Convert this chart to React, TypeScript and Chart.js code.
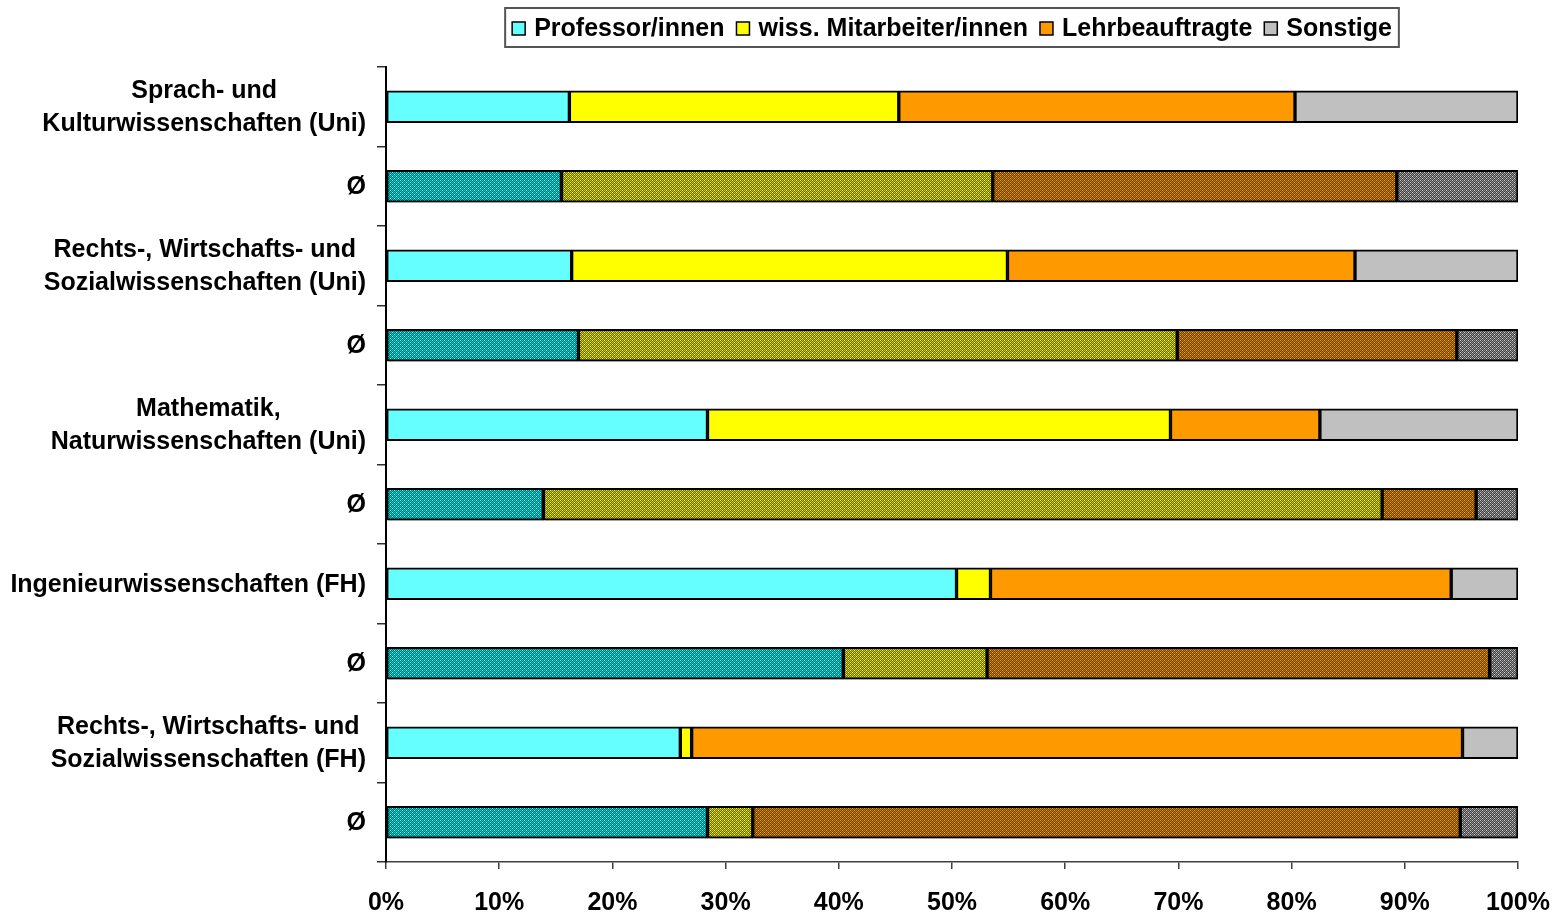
import React, { useEffect, useRef } from "react";
import { Chart, registerables } from "chart.js";

Chart.register(...registerables);

const categories: (string | string[])[] = [
  ["Sprach- und", "Kulturwissenschaften (Uni)"],
  "Ø",
  ["Rechts-, Wirtschafts- und", "Sozialwissenschaften (Uni)"],
  "Ø",
  ["Mathematik,", "Naturwissenschaften (Uni)"],
  "Ø",
  "Ingenieurwissenschaften (FH)",
  "Ø",
  ["Rechts-, Wirtschafts- und", "Sozialwissenschaften (FH)"],
  "Ø",
];

const seriesNames = ["Professor/innen", "wiss. Mitarbeiter/innen", "Lehrbeauftragte", "Sonstige"];

const professoren = [16.2, 15.5, 16.4, 17.0, 28.4, 13.9, 50.4, 40.4, 26.0, 28.4];
const mitarbeiter = [29.1, 38.1, 38.5, 52.9, 40.9, 74.1, 3.0, 12.7, 1.0, 4.0];
const lehrbeauftragte = [35.0, 35.7, 30.7, 24.7, 13.2, 8.3, 40.7, 44.4, 68.1, 62.5];
const sonstige = [19.7, 10.7, 14.4, 5.4, 17.5, 3.7, 5.9, 2.5, 4.9, 5.1];

const xTickValues = [0, 10, 20, 30, 40, 50, 60, 70, 80, 90, 100];

const FONT = '"Liberation Sans", Arial, sans-serif';
const solidColors = ["#66FFFF", "#FFFF00", "#FF9900", "#C0C0C0"];
const patternSpecs = [
  ["#006666", "#00CCCC", "#66FFFF"],
  ["#666600", "#CCCC00", "#FFFF66"],
  ["#663D00", "#CC7A00", "#FFAA33"],
  ["#404040", "#909090", "#D8D8D8"],
];

function makePattern(ctx: CanvasRenderingContext2D, base: string, mid: string, bright: string) {
  const c = document.createElement("canvas");
  c.width = 4;
  c.height = 4;
  const g = c.getContext("2d")!;
  g.fillStyle = base;
  g.fillRect(0, 0, 4, 4);
  g.fillStyle = mid;
  for (let y = 0; y < 4; y++)
    for (let x = 0; x < 4; x++) if ((x + y) % 2 === 0) g.fillRect(x, y, 1, 1);
  g.fillStyle = bright;
  g.fillRect(0, 0, 1, 1);
  g.fillRect(2, 2, 1, 1);
  return ctx.createPattern(c, "repeat")!;
}

const shadowPlugin = {
  id: "barShadow",
  beforeDatasetsDraw(chart: any) {
    const ctx = chart.ctx;
    ctx.save();
    ctx.shadowColor = "rgba(0,0,0,0.28)";
    ctx.shadowOffsetX = 2;
    ctx.shadowOffsetY = 3;
    ctx.shadowBlur = 0;
  },
  afterDatasetsDraw(chart: any) {
    chart.ctx.restore();
  },
};

const yLabelPlugin = {
  id: "yLabels",
  afterDraw(chart: any) {
    const ctx = chart.ctx;
    const y = chart.scales.y;
    ctx.save();
    ctx.font = `bold 25px ${FONT}`;
    ctx.fillStyle = "#000";
    ctx.textBaseline = "middle";
    ctx.textAlign = "center";
    categories.forEach((lab, i) => {
      const lines = Array.isArray(lab) ? lab : [lab];
      const maxW = Math.max(...lines.map((l) => ctx.measureText(l).width));
      const cx = y.right - 20 - maxW / 2;
      const cy = y.getPixelForValue(i) + 1;
      const lh = 33;
      lines.forEach((l, j) => ctx.fillText(l, cx, cy + (j - (lines.length - 1) / 2) * lh));
    });
    ctx.restore();
  },
};

const legendPlugin = {
  id: "customLegend",
  afterDraw(chart: any) {
    const ctx = chart.ctx;
    const area = chart.chartArea;
    ctx.save();
    ctx.font = `bold 25px ${FONT}`;
    const box = 13;
    const gapBox = 9;
    const gapItem = 12;
    const padX = 7;
    const widths = seriesNames.map((n) => ctx.measureText(n).width);
    let total = padX * 2;
    widths.forEach((w, i) => {
      total += box + gapBox + w + (i < widths.length - 1 ? gapItem : 0);
    });
    const cxMid = (area.left + area.right) / 2;
    const left = cxMid - total / 2;
    const top = 8;
    const h = 39;
    ctx.fillStyle = "#fff";
    ctx.fillRect(left, top, total, h);
    ctx.strokeStyle = "#555";
    ctx.lineWidth = 2;
    ctx.strokeRect(left, top, total, h);
    let x = left + padX;
    const cy = top + h / 2 + 1;
    seriesNames.forEach((n, i) => {
      ctx.fillStyle = solidColors[i];
      ctx.fillRect(x, cy - box / 2, box, box);
      ctx.strokeStyle = "#000";
      ctx.lineWidth = 1.5;
      ctx.strokeRect(x, cy - box / 2, box, box);
      x += box + gapBox;
      ctx.fillStyle = "#000";
      ctx.textBaseline = "middle";
      ctx.textAlign = "left";
      ctx.fillText(n, x, cy + 1);
      x += widths[i] + gapItem;
    });
    ctx.restore();
  },
};

export default function App() {
  const canvasRef = useRef<HTMLCanvasElement | null>(null);

  useEffect(() => {
    document.body.style.margin = "0";
    const canvas = canvasRef.current!;
    const ctx = canvas.getContext("2d")!;
    const patterns = patternSpecs.map(([a, b, c]) => makePattern(ctx, a, b, c));
    const seriesData = [professoren, mitarbeiter, lehrbeauftragte, sonstige];

    const chart = new Chart(canvas, {
      type: "bar",
      data: {
        labels: categories as any,
        datasets: seriesData.map((d, si) => ({
          label: seriesNames[si],
          data: d,
          backgroundColor: d.map((_, i) => (i % 2 === 0 ? solidColors[si] : patterns[si])) as any,
          borderColor: "#000",
          borderWidth: 2,
          borderSkipped: false,
          barThickness: 32,
        })),
      },
      options: {
        indexAxis: "y",
        animation: false,
        responsive: true,
        maintainAspectRatio: false,
        devicePixelRatio: 1,
        layout: { padding: { top: 67, right: 43, left: 0, bottom: 0 } },
        plugins: {
          legend: { display: false },
          tooltip: { enabled: false },
        },
        scales: {
          x: {
            type: "linear",
            stacked: true,
            min: 0,
            max: 100,
            afterBuildTicks: (scale: any) => {
              scale.ticks = xTickValues.map((v) => ({ value: v }));
            },
            afterFit: (scale: any) => {
              scale.height = 51;
              scale.paddingRight = 0;
              scale.paddingLeft = 0;
            },
            ticks: {
              callback: (v: any) => v + "%",
              font: { family: FONT, size: 25, weight: "bold" },
              color: "#000",
              padding: 19,
              maxRotation: 0,
              autoSkip: false,
            },
            grid: {
              drawOnChartArea: false,
              drawTicks: true,
              tickLength: 7,
              color: "#404040",
              lineWidth: 1.5,
            },
            border: { display: true, color: "#404040", width: 1.5 },
          },
          y: {
            type: "category",
            stacked: true,
            offset: true,
            afterFit: (scale: any) => {
              scale.width = 386;
            },
            ticks: { display: false },
            grid: {
              offset: true,
              drawOnChartArea: false,
              drawTicks: true,
              tickLength: 9,
              color: "#303030",
              lineWidth: 1.5,
            },
            border: { display: true, color: "#000", width: 2 },
          },
        },
      },
      plugins: [shadowPlugin, yLabelPlugin, legendPlugin],
    });
    return () => chart.destroy();
  }, []);

  return (
    <div style={{ width: 1561, height: 913, position: "relative" }}>
      <canvas ref={canvasRef} />
    </div>
  );
}
